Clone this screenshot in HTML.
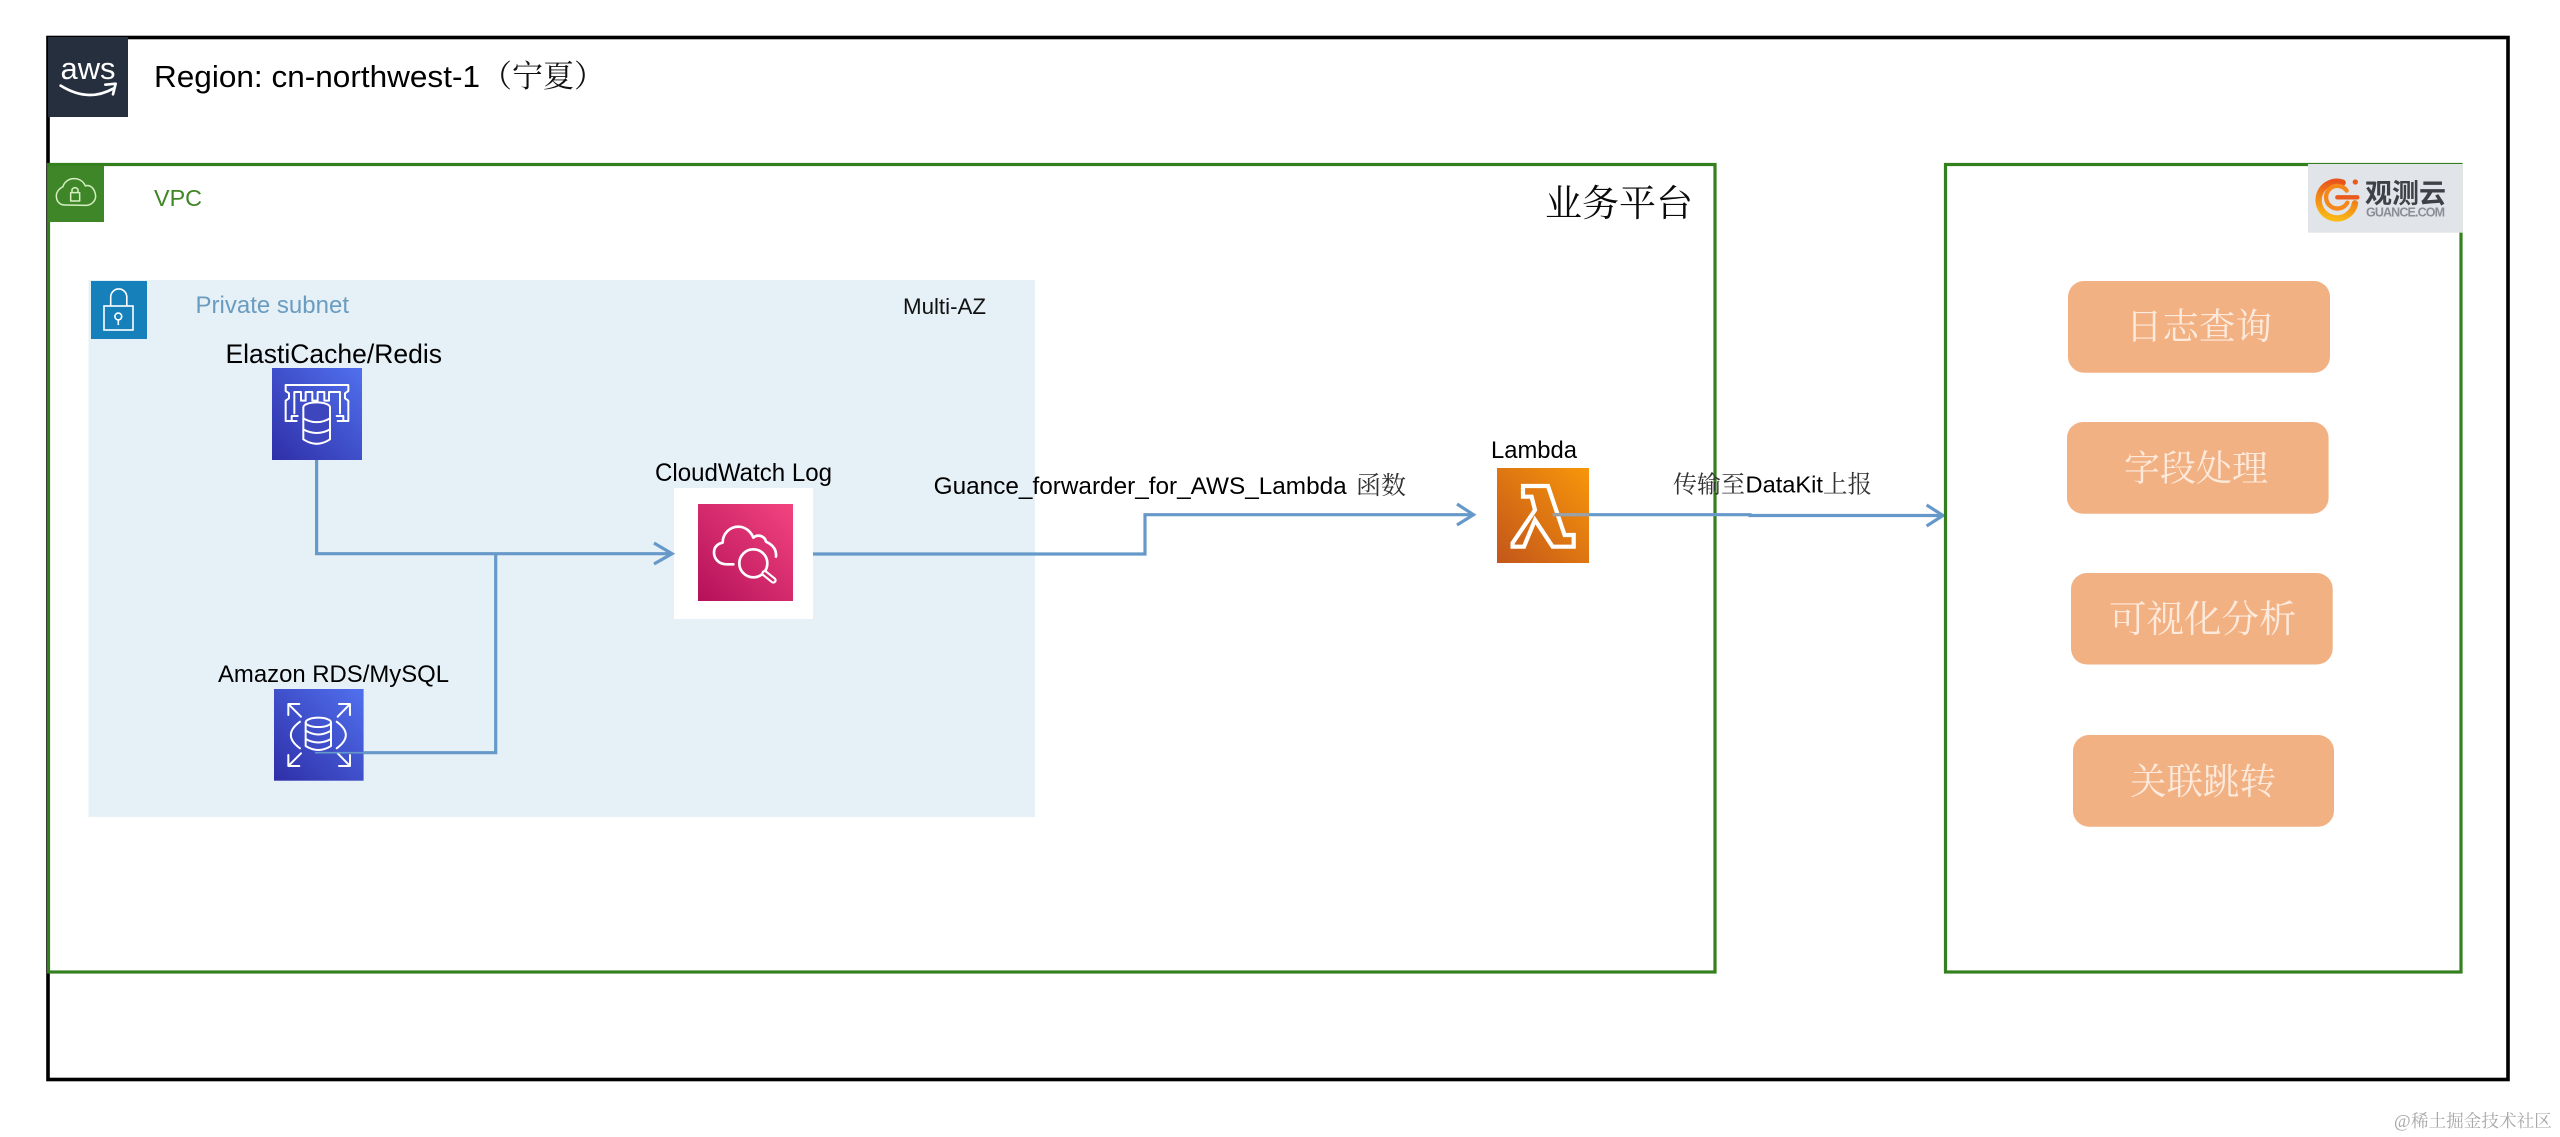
<!DOCTYPE html>
<html lang="zh-CN">
<head>
<meta charset="utf-8">
<title>Region cn-northwest-1</title>
<style>
html,body{margin:0;padding:0;background:#fff;width:2560px;height:1137px;overflow:hidden}
svg{display:block}
.s{font-family:"Liberation Sans",sans-serif}
.c{font-family:"Liberation Serif","Noto Serif CJK SC",serif}
.btn{font-family:"Noto Serif CJK SC",serif;font-size:36px;fill:#fdeadc}
.ic{fill:none;stroke:#fff;stroke-width:6;stroke-linecap:round;stroke-linejoin:round}
.ln{fill:none;stroke:#6699c9;stroke-width:3.2}
</style>
</head>
<body>
<svg width="2560" height="1137" viewBox="0 0 2560 1137" xmlns="http://www.w3.org/2000/svg">
<defs>
<linearGradient id="blue" x1="0" y1="1" x2="1" y2="0"><stop offset="0" stop-color="#2e2fa7"/><stop offset="1" stop-color="#5170ee"/></linearGradient>
<linearGradient id="pink" x1="0" y1="1" x2="1" y2="0"><stop offset="0" stop-color="#b4115a"/><stop offset="1" stop-color="#f3447f"/></linearGradient>
<linearGradient id="orange" x1="0" y1="1" x2="1" y2="0"><stop offset="0" stop-color="#c3561a"/><stop offset="1" stop-color="#f8960a"/></linearGradient>
<linearGradient id="glogo" x1="0.5" y1="0" x2="0.3" y2="1"><stop offset="0" stop-color="#e8551c"/><stop offset="1" stop-color="#fab915"/></linearGradient>
</defs>

<rect width="2560" height="1137" fill="#fff"/>
<!-- Region -->
<rect x="48" y="37.5" width="2460" height="1042" fill="none" stroke="#000" stroke-width="3.6"/>
<rect x="48" y="37" width="80" height="80" fill="#252f3e"/>
<text class="s" x="60.5" y="79" font-size="31" fill="#fff" textLength="55" lengthAdjust="spacingAndGlyphs">aws</text>
<g transform="translate(48,36) scale(.3333)" fill="none" stroke="#fff" stroke-width="8" stroke-linecap="round" stroke-linejoin="round">
<path d="M38,149 Q120,200 195,158"/><path d="M172,146 L203,143 L195,175"/>
</g>
<text class="s" x="154" y="87" font-size="31" fill="#000" textLength="326" lengthAdjust="spacingAndGlyphs">Region: cn-northwest-1</text>
<text class="c" x="481" y="87" font-size="31" fill="#111">（宁夏）</text>

<!-- VPC -->
<rect x="48.5" y="164.5" width="1666.5" height="807.5" fill="none" stroke="#35801e" stroke-width="3.2"/>
<rect x="48" y="166" width="56" height="56" fill="#3f8629"/>
<g transform="translate(48,36) scale(.3333)" fill="none" stroke="#d5efc0" stroke-width="4.5" stroke-linejoin="round">
<path d="M50,507 C30,507 25,490 25,480 C25,465 38,455 45,452 C48,440 60,428 78,428 C98,428 108,440 112,450 C125,445 140,455 143,480 C143,495 130,508 115,508 Z"/>
<rect x="68" y="470" width="27" height="25"/>
<path d="M72,470 V460 Q81,450 90,460 V470"/>
</g>
<text class="s" x="154" y="206" font-size="23.5" fill="#3f8624" textLength="48" lengthAdjust="spacingAndGlyphs">VPC</text>
<text class="c" x="1545" y="216" font-size="37" fill="#0a0a0a">业务平台</text>

<!-- Subnet -->
<rect x="88.5" y="280" width="946.5" height="537" fill="#e6f0f7"/>
<rect x="91" y="281" width="56" height="58" fill="#1680bb"/>
<g fill="none" stroke="#fff" stroke-width="1.6">
<rect x="104" y="306" width="29" height="24"/>
<path d="M110.7,306 V297 A8,8 0 0 1 126.8,297 V306"/>
<circle cx="118.3" cy="316.5" r="3.4"/><path d="M118.3,320 V325"/>
</g>
<text class="s" x="195.5" y="313" font-size="24" fill="#6a9cc0" textLength="153.5" lengthAdjust="spacingAndGlyphs">Private subnet</text>
<text class="s" x="903" y="314" font-size="22.4" fill="#111" textLength="83" lengthAdjust="spacingAndGlyphs">Multi-AZ</text>

<!-- ElastiCache -->
<text class="s" x="225.5" y="363" font-size="26.5" fill="#000" textLength="216.5" lengthAdjust="spacingAndGlyphs">ElastiCache/Redis</text>
<rect x="272" y="368" width="90" height="92" fill="url(#blue)"/>
<g transform="translate(265,360) scale(.3333)" class="ic">
<path d="M95,183 H62 V122 L72,115 V100 L62,93 V75 H250 V93 L240,100 V115 L250,122 V183 H218"/>
<path d="M88,160 V96 H108 V122 H122 V96 H142 V122 H158 V96 H178 V122 H192 V96 H225 V160"/>
<path d="M98,168 H80 V183"/><path d="M215,168 H235 V183"/>
<ellipse cx="155" cy="142" rx="40" ry="15" fill="#3e46bd"/>
<path d="M115,142 V238 Q155,265 195,238 V142" fill="#3e46bd"/>
<path d="M115,175 Q155,198 195,175"/><path d="M115,208 Q155,230 195,208"/>
</g>

<!-- RDS -->
<text class="s" x="218" y="682" font-size="24" fill="#000" textLength="231" lengthAdjust="spacingAndGlyphs">Amazon RDS/MySQL</text>
<rect x="274" y="689" width="89.6" height="91.7" fill="url(#blue)"/>
<g transform="translate(265,680) scale(.3333)" class="ic">
<path d="M70,105 V72 H103"/><path d="M72,74 L108,110"/>
<path d="M222,72 H255 V105"/><path d="M253,74 L218,110"/>
<path d="M70,225 V258 H103"/><path d="M72,256 L108,220"/>
<path d="M255,225 V258 H222"/><path d="M253,256 L218,220"/>
<path d="M105,125 Q50,165 105,205"/><path d="M215,125 Q270,165 215,205"/>
<ellipse cx="160" cy="127" rx="38" ry="14"/>
<path d="M122,127 V198 Q160,222 198,198 V127"/>
<path d="M122,152 Q160,175 198,152"/><path d="M122,177 Q160,198 198,177"/>
</g>

<!-- CloudWatch -->
<text class="s" x="655" y="481" font-size="25.3" fill="#000" textLength="177" lengthAdjust="spacingAndGlyphs">CloudWatch Log</text>
<rect x="674" y="488" width="139" height="131" fill="#fff"/>
<rect x="698" y="504" width="95" height="97" fill="url(#pink)"/>
<g transform="translate(690,495) scale(.3333)" fill="none" stroke="#fff" stroke-width="8" stroke-linecap="round" stroke-linejoin="round">
<path d="M130,208 H110 C85,208 72,190 72,172 C72,155 85,145 98,143 C98,115 120,95 145,95 C165,95 182,108 190,128 C205,115 225,125 228,140 C250,150 260,165 258,185"/>
<circle cx="190" cy="205" r="42"/>
<path d="M224,235 L250,256" stroke-width="20"/>
<path d="M224,235 L250,256" stroke="#d1286a" stroke-width="7"/>
</g>

<!-- Lambda -->
<text class="s" x="1491" y="458" font-size="24" fill="#000" textLength="86" lengthAdjust="spacingAndGlyphs">Lambda</text>
<rect x="1497" y="468" width="92" height="95" fill="url(#orange)"/>
<path d="M1523,486 H1548 L1564.6,535 H1573.7 V546.7 H1552.6 L1535,520 L1524,546.7 H1512.6 V543 L1535,510 L1531.6,496.7 H1523 Z" fill="none" stroke="#fff" stroke-width="4.2" stroke-linejoin="miter"/>

<!-- Connectors -->
<path class="ln" d="M316.6,460 V553.7 H672"/>
<path class="ln" d="M654,543 L672,553.7 L654,564" stroke-width="3.6"/>
<path class="ln" d="M363,752.7 H495.7 V553.7"/>
<path d="M315,752.7 H363" fill="none" stroke="#6699c9" stroke-width="1.6"/>
<path class="ln" d="M813,554 H1145 V514.7 H1473"/>
<path class="ln" d="M1457,504 L1473.5,514.7 L1457,525" stroke-width="3.6"/>
<path d="M1552.6,514.7 H1589" fill="none" stroke="#9aa0a6" stroke-width="3.4"/>
<path class="ln" d="M1589,514.7 H1750 V515.5 H1943"/>
<path class="ln" d="M1926.6,505 L1943,515.5 L1926.6,526" stroke-width="3"/>

<text class="s" x="933.7" y="494" font-size="24" fill="#000" textLength="413" lengthAdjust="spacingAndGlyphs">Guance_forwarder_for_AWS_Lambda</text>
<text class="c" x="1356" y="494" font-size="25" fill="#333">函数</text>
<text class="c" x="1673" y="492.5" font-size="24" fill="#333">传输至</text>
<text class="s" x="1745.5" y="492.5" font-size="23.5" fill="#000" textLength="77.5" lengthAdjust="spacingAndGlyphs">DataKit</text>
<text class="c" x="1823" y="492.5" font-size="24.5" fill="#333">上报</text>

<!-- Guance panel -->
<rect x="1945.5" y="164.5" width="515.5" height="807.5" fill="none" stroke="#35801e" stroke-width="3.2"/>
<rect x="2308" y="164" width="154.5" height="68.7" fill="#e1e4e9"/>
<g transform="translate(2300,160) scale(.3333)" fill="none" stroke-linecap="round">
<path d="M128,68 A55,55 0 1 0 165,130" stroke="url(#glogo)" stroke-width="19"/>
<path d="M140,92 A34,34 0 1 0 142,128" stroke="#f4881c" stroke-width="13"/>
<path d="M112,112 H172" stroke="#ea5a1d" stroke-width="13"/>
<circle cx="166" cy="66" r="8" fill="#ea5a1d" stroke="none"/>
</g>
<text x="2365" y="203" font-family="'Noto Sans CJK SC',sans-serif" font-weight="700" font-size="27" fill="#3d4248">观测云</text>
<text class="s" x="2366" y="216.5" font-size="12.5" font-weight="700" fill="#8a8f96" textLength="79" lengthAdjust="spacing">GUANCE.COM</text>

<rect x="2068" y="281" width="262" height="91.7" rx="16" fill="#f2b183"/>
<rect x="2067" y="422" width="261.6" height="91.7" rx="16" fill="#f2b183"/>
<rect x="2071" y="573" width="261.7" height="91.5" rx="16" fill="#f2b183"/>
<rect x="2073" y="735" width="261" height="91.7" rx="16" fill="#f2b183"/>
<text class="btn" x="2126" y="339" style="font-size:36.5px">日志查询</text>
<text class="btn" x="2124" y="480.5">字段处理</text>
<text class="btn" x="2109" y="632" style="font-size:37.5px">可视化分析</text>
<text class="btn" x="2130" y="794" style="font-size:36.5px">关联跳转</text>

<!-- Watermark -->
<text x="2394" y="1127" font-family="'Liberation Serif',serif" font-size="18" fill="#a8a8a8">@</text>
<text class="c" x="2411" y="1127" font-size="17.6" fill="#a8a8a8">稀土掘金技术社区</text>
</svg>
</body>
</html>
